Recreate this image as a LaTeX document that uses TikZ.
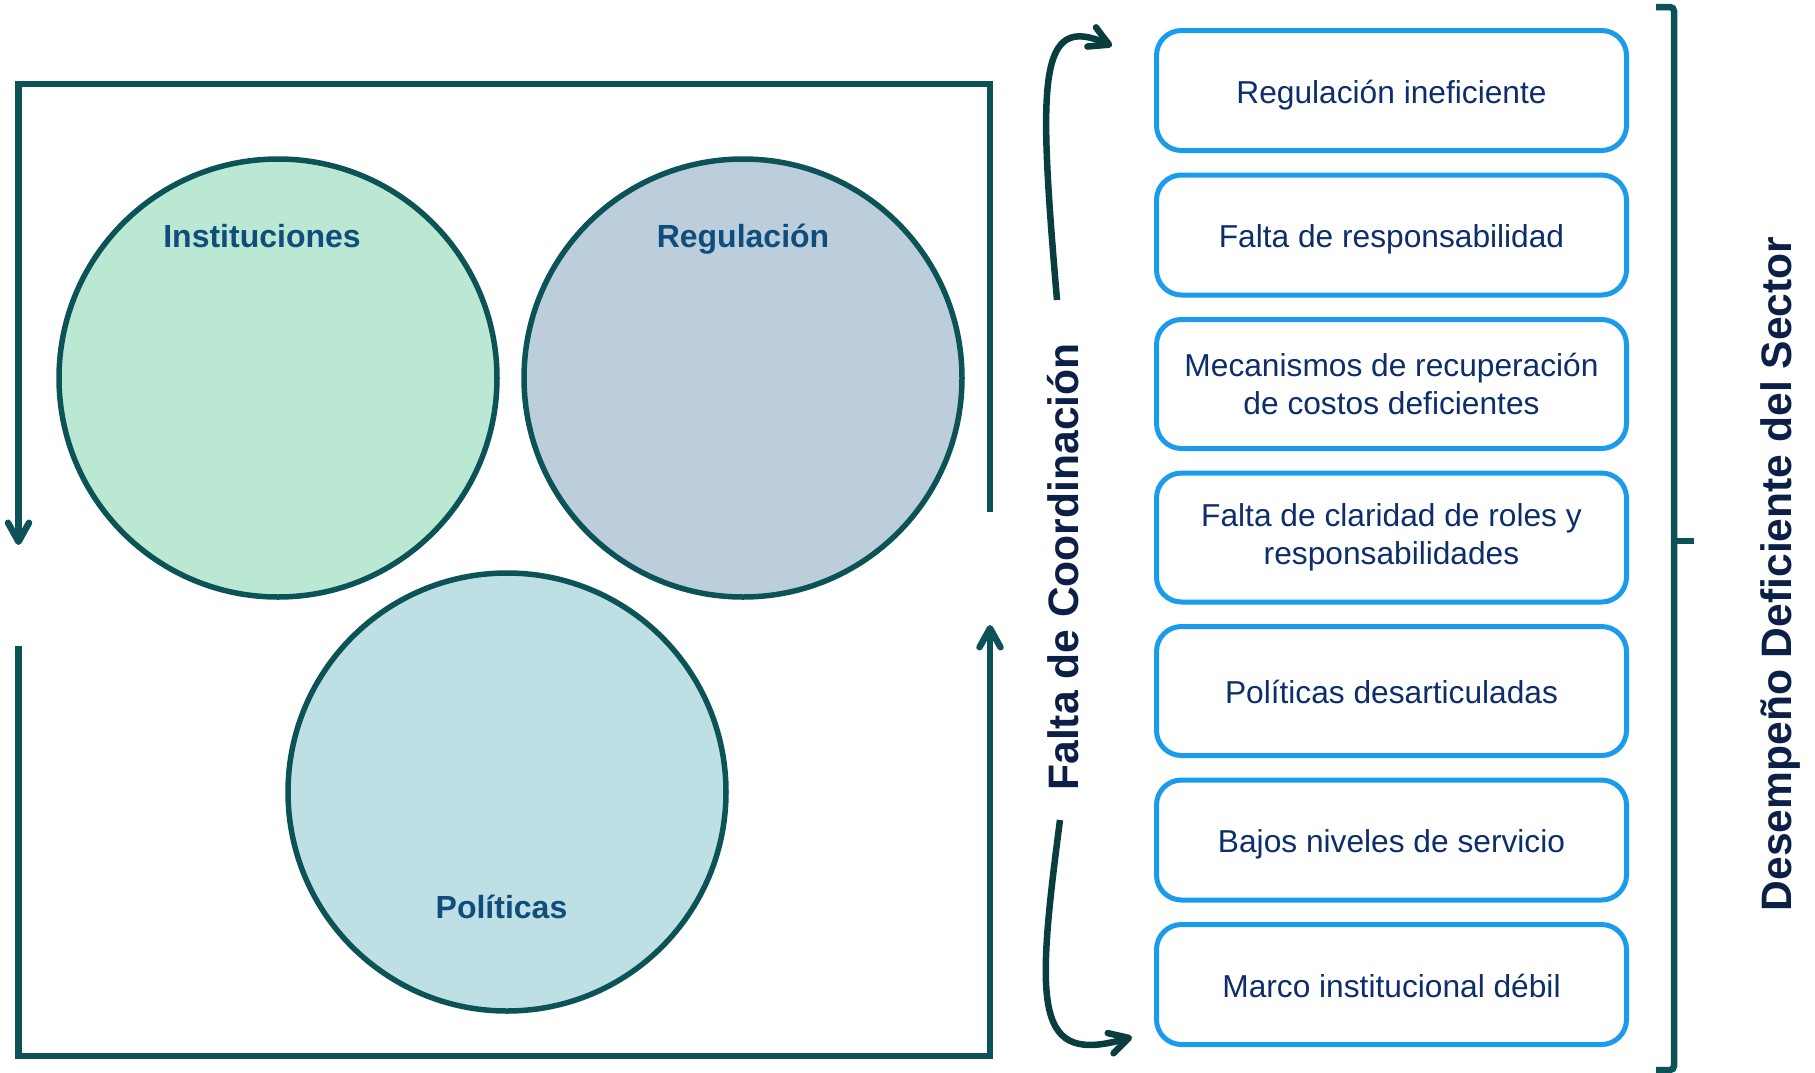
\documentclass[tikz,border=0pt]{standalone}
\usepackage{fontspec}
\setmainfont{Liberation Sans}
\usetikzlibrary{positioning,arrows.meta}
\definecolor{frameteal}{HTML}{0B5357}
\definecolor{curlteal}{HTML}{0A3D3D}
\definecolor{instgreen}{HTML}{BBE8D2}
\definecolor{regublue}{HTML}{BCCEDC}
\definecolor{policyan}{HTML}{BEDFE3}
\definecolor{tagblue}{HTML}{0E4D7C}
\definecolor{causeblue}{HTML}{1A9BEC}
\definecolor{causetext}{HTML}{0D2E6A}
\definecolor{titlenavy}{HTML}{0C1F47}

\begin{document}
\begin{tikzpicture}[x=1pt,y=-1pt,
  ring/.style={circle,draw=frameteal,line width=5.5pt,minimum size=438pt,inner sep=0},
  tag/.style={font=\bfseries\fontsize{32pt}{38pt}\selectfont,text=tagblue,anchor=base,inner sep=0},
  cause/.style={draw=causeblue,line width=5pt,rounded corners=25pt,minimum width=470pt,minimum height=120pt,align=center,text=causetext,font=\fontsize{31.7pt}{38.5pt}\selectfont},
  one line/.style={text height=31pt,text depth=6pt},
  tall cause/.style={cause,minimum height=129pt},
  sidetitle/.style={rotate=90,font=\bfseries\fontsize{42.6pt}{50pt}\selectfont,text=titlenavy},
  frameline/.style={draw=frameteal,line width=6.5pt,-{Straight Barb[length=19pt,width=21pt,round]}},
  curl/.style={draw=curlteal,line width=6.5pt,-{Straight Barb[length=19pt,width=21pt,round]}},
  brace line/.style={draw=frameteal,line width=6.5pt,rounded corners=4pt},
  node distance=19.5pt,
]
  \useasboundingbox (0,0) rectangle (1815,1072);

  \node[ring,fill=instgreen] (inst) at (278,378) {};
  \node[ring,fill=regublue] (regu) at (743,378) {};
  \node[ring,fill=policyan] (poli) at (507,792) {};
  \node[tag] (inst label) at ([shift={(-16,-131)}]inst.center) {Instituciones};
  \node[tag] (regu label) at ([shift={(0,-131)}]regu.center) {Regulación};
  \node[tag] (poli label) at ([shift={(-5.5,126)}]poli.center) {Políticas};

  \coordinate (tl) at (18.5,84);
  \coordinate (tr) at (990,84);
  \coordinate (bl) at (18.5,1056);
  \coordinate (br) at (990,1056);
  \draw[frameline] (990,512) -- (tr) -- (tl) -- (18.5,545);
  \draw[frameline] (18.5,646) -- (bl) -- (br) -- (990,625);

  \node[cause,one line,anchor=north] (c1) at (1391.5,28) {Regulación ineficiente};
  \node[cause,one line,below=of c1] (c2) {Falta de responsabilidad};
  \node[tall cause,below=of c2] (c3) {Mecanismos de recuperación\\de costos deficientes};
  \node[tall cause,below=of c3] (c4) {Falta de claridad de roles y\\responsabilidades};
  \node[tall cause,one line,below=of c4] (c5) {Políticas desarticuladas};
  \node[cause,one line,below=of c5] (c6) {Bajos niveles de servicio};
  \node[cause,one line,below=of c6] (c7) {Marco institucional débil};

  \node[sidetitle] (coord) at (1063,567) {Falta de Coordinación};
  \coordinate (up start) at (1057,300);
  \coordinate (up end) at (1112,46);
  \coordinate (down start) at (1060,820);
  \coordinate (down end) at (1132,1037);
  \draw[curl] (up start) .. controls (1038,78) and (1038,13) .. (up end);
  \draw[curl] (down start) .. controls (1035,1010) and (1035,1065) .. (down end);

  \draw[brace line] (1656,7) -- (1674,7) -- (1674,1070) -- (1656,1070);
  \draw[brace line] (1674,541) -- (1694,541);
  \node[sidetitle] (sector) at (1780,574) {Desempeño Deficiente del Sector};
\end{tikzpicture}
\end{document}
